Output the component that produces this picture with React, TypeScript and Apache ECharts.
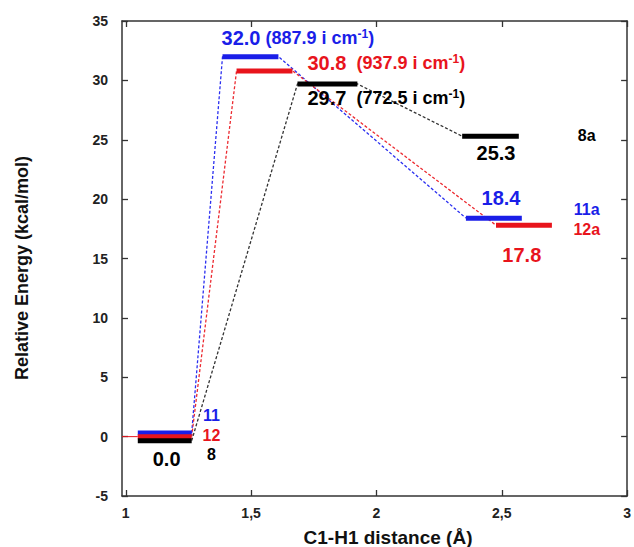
import { useEffect, useRef } from 'react';
import * as echarts from 'echarts';

// ---- data ----
const speciesNames = ['11', '12', '8'];
const productNames = ['11a', '12a', '8a'];
// reactant levels are drawn slightly stacked in the picture (all labelled 0.0)
const reactantEnergy = [0.3, 0.0, -0.34];
const tsEnergy = [32.0, 30.8, 29.7];
const productEnergy = [18.4, 17.8, 25.3];
const reactantRange = [[1.048, 1.263], [1.048, 1.263], [1.048, 1.263]];
const tsRange = [[1.386, 1.609], [1.442, 1.665], [1.685, 1.924]];
const productRange = [[2.357, 2.58], [2.477, 2.7], [2.342, 2.568]];
const imagFreq = ['887.9', '937.9', '772.5'];
const reactantLabel = '0.0';
const xTicks = [1, 1.5, 2, 2.5, 3];
const xMin = 0.985;
const xMax = 3;
const yMin = -5;
const yMax = 35;
const yStep = 5;

// ---- styles ----
const COLORS = ['#1a1ee8', '#e8141c', '#000000'];
const DASH_COLORS = ['#2a2ef0', '#ec2a30', '#333333'];
const FONT = '"Liberation Sans", Arial, Helvetica, sans-serif';

// label placements (data coordinates)
const speciesLabelPos = [[1.342, 1.77], [1.342, 0.08], [1.342, -1.52]];
const productLabelPos = [[2.839, 19.1], [2.839, 17.45], [2.839, 25.38]];
const productValuePos = [[2.497, 20.07], [2.58, 15.26], [2.477, 23.86]];
const tsLabelPos = [[1.382, 33.6], [1.725, 31.45], [1.725, 28.5]];
const tsGap = [' ', '  ', '  '];
const reactantLabelPos = [1.163, -1.855];

export default function App() {
  const ref = useRef<HTMLDivElement>(null);

  useEffect(() => {
    document.body.style.margin = '0';
    if (!ref.current) return;
    const chart = echarts.init(ref.current, undefined, { renderer: 'svg' });

    const series: any[] = [];

    // dashed connectors
    speciesNames.forEach((_, i) => {
      series.push({
        type: 'line',
        symbol: 'none',
        silent: true,
        z: 2,
        lineStyle: { color: DASH_COLORS[i], width: 1.3, type: [3, 2] },
        data: [
          [reactantRange[i][1], reactantEnergy[i]],
          [tsRange[i][0], tsEnergy[i]],
          [tsRange[i][1], tsEnergy[i]],
          [productRange[i][0], productEnergy[i]],
        ],
      });
    });

    // thin red reference line at the reactant level
    series.push({
      type: 'line',
      symbol: 'none',
      silent: true,
      z: 2,
      lineStyle: { color: COLORS[1], width: 1 },
      data: [
        [xMin, reactantEnergy[1]],
        [reactantRange[1][0], reactantEnergy[1]],
      ],
    });

    // thick levels
    speciesNames.forEach((_, i) => {
      const levels: [number[], number][] = [
        [reactantRange[i], reactantEnergy[i]],
        [tsRange[i], tsEnergy[i]],
        [productRange[i], productEnergy[i]],
      ];
      levels.forEach(([r, e]) => {
        series.push({
          type: 'line',
          symbol: 'none',
          silent: true,
          z: 5,
          lineStyle: { color: COLORS[i], width: 5, cap: 'butt' },
          data: [
            [r[0], e],
            [r[1], e],
          ],
        });
      });
    });

    // labels
    const labelItems: any[] = [];
    const mk = (x: number, y: number, text: string, color: string, size: number, align: string, rich?: any) => ({
      value: [x, y],
      itemStyle: { color: 'rgba(0,0,0,0)', opacity: 1 },
      label: {
        show: true,
        position: 'inside',
        align,
        verticalAlign: 'middle',
        formatter: text,
        color,
        opacity: 1,
        fontSize: size,
        fontWeight: 'bold',
        fontFamily: FONT,
        textBorderWidth: 0,
        textBorderColor: 'transparent',
        rich,
      },
    });
    speciesNames.forEach((n, i) => {
      labelItems.push(mk(speciesLabelPos[i][0], speciesLabelPos[i][1], n, COLORS[i], 16, 'center'));
      labelItems.push(mk(productLabelPos[i][0], productLabelPos[i][1], productNames[i], COLORS[i], 16, 'center'));
      labelItems.push(
        mk(productValuePos[i][0], productValuePos[i][1], productEnergy[i].toFixed(1), COLORS[i], 20, 'center')
      );
      const base = { fontWeight: 'bold', color: COLORS[i], fontFamily: FONT, textBorderWidth: 0, opacity: 1 };
      const rich = {
        v: { ...base, fontSize: 20 },
        p: { ...base, fontSize: 18 },
        sup: { ...base, fontSize: 12, verticalAlign: 'top' },
      };
      labelItems.push(
        mk(
          tsLabelPos[i][0],
          tsLabelPos[i][1],
          `{v|${tsEnergy[i].toFixed(1)}}{p|${tsGap[i]}(${imagFreq[i]} i cm}{sup|-1}{p|)}`,
          COLORS[i],
          20,
          'left',
          rich
        )
      );
    });
    labelItems.push(mk(reactantLabelPos[0], reactantLabelPos[1], reactantLabel, COLORS[2], 20, 'center'));

    series.push({
      type: 'scatter',
      symbolSize: 1,
      silent: true,
      z: 10,
      itemStyle: { color: 'rgba(0,0,0,0)', opacity: 1 },
      data: labelItems,
    });

    const axisLine = { show: true, onZero: false, lineStyle: { color: '#333', width: 1.5 } };
    const tickStyle = { color: '#333', width: 1.3 };
    const tickLabel = { fontSize: 14, fontWeight: 'bold', color: '#222', fontFamily: FONT };

    chart.setOption({
      animation: false,
      backgroundColor: '#ffffff',
      grid: { left: 122, right: 6, top: 21, bottom: 51, containLabel: false },
      xAxis: [
        {
          type: 'value',
          position: 'bottom',
          min: xMin,
          max: xMax,
          axisLine,
          splitLine: { show: false },
          axisTick: { show: true, inside: true, length: 6, customValues: xTicks, lineStyle: tickStyle },
          axisLabel: {
            ...tickLabel,
            margin: 10,
            customValues: xTicks,
            formatter: (v: number) => String(v).replace('.', ','),
          },
        },
        {
          type: 'value',
          position: 'top',
          min: xMin,
          max: xMax,
          axisLine,
          splitLine: { show: false },
          axisTick: { show: true, inside: true, length: 6, customValues: xTicks, lineStyle: tickStyle },
          axisLabel: { show: false },
        },
      ],
      yAxis: [
        {
          type: 'value',
          position: 'left',
          min: yMin,
          max: yMax,
          interval: yStep,
          axisLine,
          splitLine: { show: false },
          axisTick: { show: true, inside: true, length: 6, lineStyle: tickStyle },
          axisLabel: { ...tickLabel, margin: 14 },
        },
        {
          type: 'value',
          position: 'right',
          min: yMin,
          max: yMax,
          interval: yStep,
          axisLine,
          splitLine: { show: false },
          axisTick: { show: true, inside: true, length: 6, lineStyle: tickStyle },
          axisLabel: { show: false },
        },
      ],
      graphic: [
        {
          type: 'text',
          x: 22,
          y: 268,
          rotation: Math.PI / 2,
          style: {
            text: 'Relative Energy (kcal/mol)',
            font: `bold 18px ${FONT}`,
            fill: '#111',
            textAlign: 'center',
            textVerticalAlign: 'middle',
          },
        },
        {
          type: 'text',
          x: 388,
          y: 537,
          style: {
            text: 'C1-H1 distance (Å)',
            font: `bold 19px ${FONT}`,
            fill: '#111',
            textAlign: 'center',
            textVerticalAlign: 'middle',
          },
        },
      ],
      series,
    });

    return () => {
      chart.dispose();
    };
  }, []);

  return <div ref={ref} style={{ width: 634, height: 547 }} />;
}
